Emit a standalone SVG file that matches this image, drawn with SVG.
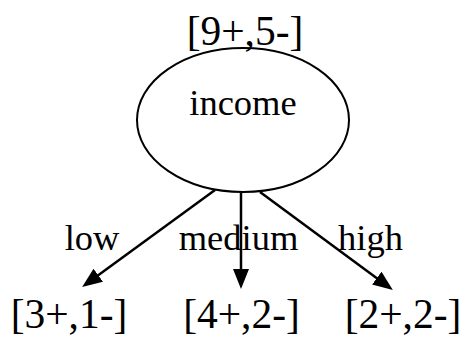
<svg xmlns="http://www.w3.org/2000/svg" width="464" height="337" viewBox="0 0 464 337">
<style>
text{font-family:"Liberation Serif","Times New Roman",serif;fill:#000;text-anchor:middle}
.cnt{font-size:41.5px}
.lbl{font-size:36.5px}
.edge{stroke:#000;stroke-width:2.5;fill:none}
</style>
<defs>
<marker id="ah" markerUnits="userSpaceOnUse" markerWidth="22" markerHeight="18" refX="9" refY="8" orient="auto">
<path d="M0,0 L20,8 L0,16 z" fill="#000"/>
</marker>
</defs>
<rect width="464" height="337" fill="#fff"/>
<g id="root">
<text class="cnt" x="245" y="45">[9+,5-]</text>
<ellipse cx="243" cy="120" rx="106" ry="72" fill="none" stroke="#000" stroke-width="2"/>
<text class="lbl" x="243" y="115">income</text>
</g>
<g id="connectors">
<line class="edge" x1="215" y1="190" x2="91" y2="280.5" marker-end="url(#ah)"/>
<line class="edge" x1="241" y1="193" x2="241" y2="278" marker-end="url(#ah)"/>
<line class="edge" x1="260" y1="192" x2="384" y2="283.5" marker-end="url(#ah)"/>
<text class="lbl" x="92" y="250">low</text>
<text class="lbl" x="238.5" y="250">medium</text>
<text class="lbl" x="370.5" y="250">high</text>
</g>
<g id="leaf-low"><text class="cnt" x="69" y="328">[3+,1-]</text></g>
<g id="leaf-medium"><text class="cnt" x="241.5" y="328">[4+,2-]</text></g>
<g id="leaf-high"><text class="cnt" x="403" y="328">[2+,2-]</text></g>
</svg>
